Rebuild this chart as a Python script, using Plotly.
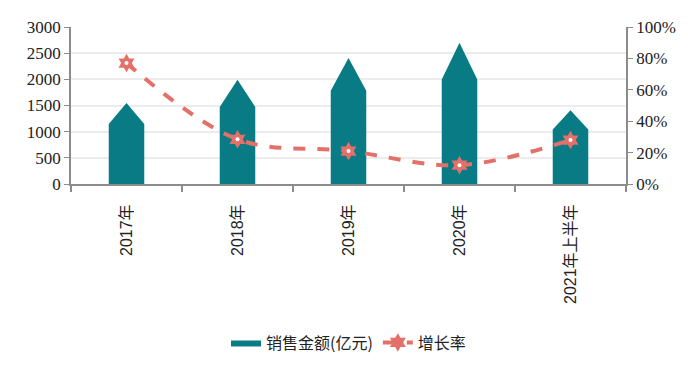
import plotly.graph_objects as go

categories = ["2017年", "2018年", "2019年", "2020年", "2021年上半年"]
sales = [1550, 1990, 2410, 2700, 1410]          # 销售金额(亿元)
growth = [0.77, 0.285, 0.21, 0.12, 0.28]         # 增长率
y1_ticks = [0, 500, 1000, 1500, 2000, 2500, 3000]
y2_ticks = [0, 0.2, 0.4, 0.6, 0.8, 1.0]

TEAL = "#097B84"
SALMON = "#E4706A"
half_w = 0.16
shoulder = 0.74

# pentagon ("arrow") bars built from data values
px, py = [], []
for i, v in enumerate(sales):
    px += [i - half_w, i - half_w, i, i + half_w, i + half_w, i - half_w, None]
    py += [0, v * shoulder, v, v * shoulder, 0, 0, None]

fig = go.Figure()
fig.add_trace(go.Scatter(
    x=px, y=py, mode="lines", fill="toself", fillcolor=TEAL,
    line=dict(color=TEAL, width=0), name="销售金额(亿元)", yaxis="y",
))
xs = list(range(len(categories)))
fig.add_trace(go.Scatter(
    x=xs, y=growth, mode="lines+markers", name="增长率", yaxis="y2",
    line=dict(color=SALMON, width=4, dash="dash", shape="spline"),
    marker=dict(symbol="hexagram", size=14, color=SALMON),
))
fig.add_trace(go.Scatter(
    x=xs, y=growth, mode="markers", yaxis="y2", showlegend=False,
    marker=dict(symbol="circle", size=4, color="white"), hoverinfo="skip",
))

fig.update_layout(
    width=688, height=374,
    margin=dict(l=63, r=70, t=19, b=198),
    paper_bgcolor="white", plot_bgcolor="white",
    font=dict(family="Liberation Serif, Noto Sans CJK SC", size=17, color="#222"),
    xaxis=dict(
        range=[-0.5, 4.5], tickmode="array", tickvals=xs, ticktext=categories,
        tickangle=-90, ticks="", showgrid=False, zeroline=False, automargin=False,
        showline=True, linecolor="#8c8c8c", linewidth=2, ticklabelstandoff=12,
        tickfont=dict(family="Liberation Sans, Noto Sans CJK SC", size=16, color="#222"),
        minor=dict(ticks="outside", tick0=0.5, dtick=1, ticklen=6, tickcolor="#8c8c8c", tickwidth=1.5),
    ),
    yaxis=dict(
        range=[0, 3000], tickmode="array", tickvals=y1_ticks, automargin=False,
        showgrid=True, gridcolor="#ececec", gridwidth=1.5, zeroline=False,
        showline=True, linecolor="#8c8c8c", linewidth=1.5,
        ticks="outside", ticklen=5, tickcolor="#8c8c8c",
    ),
    yaxis2=dict(
        range=[0, 1.0], overlaying="y", side="right", tickmode="array", automargin=False,
        tickvals=y2_ticks, tickformat=".0%", showgrid=False, zeroline=False,
        showline=True, linecolor="#8c8c8c", linewidth=1.5,
        ticks="outside", ticklen=5, tickcolor="#8c8c8c",
    ),
    legend=dict(
        orientation="h", x=0.5, xanchor="center", y=-1.01, yanchor="middle",
        font=dict(family="Noto Sans CJK SC", size=16, color="#222"),
        itemwidth=30,
    ),
    showlegend=True,
)

fig.write_html("out.html")
